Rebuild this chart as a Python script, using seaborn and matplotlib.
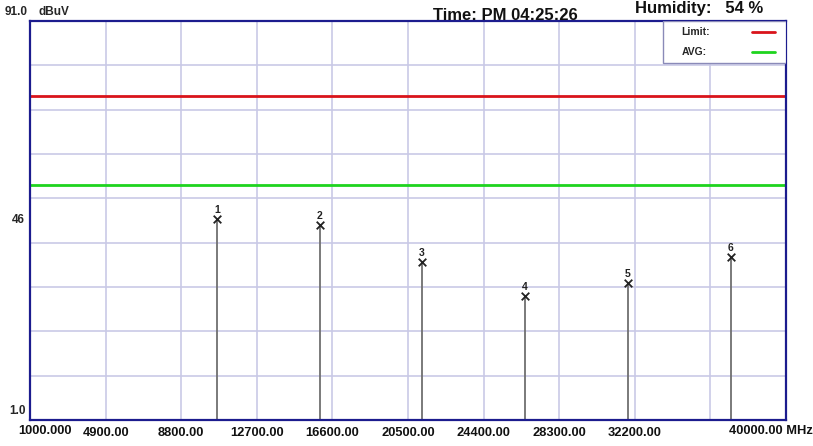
import matplotlib
matplotlib.use("Agg")
import matplotlib.pyplot as plt
import matplotlib.transforms as mtransforms
from matplotlib.patches import Rectangle
import seaborn as sns
import pandas as pd

# peak markers
marker_ids = ["1", "2", "3", "4", "5", "6"]
freqs = [10650, 15960, 21220, 26540, 31850, 37160]
levels = [46.3, 45.0, 36.6, 29.0, 31.9, 37.8]

limit_level = 74.0
avg_level = 54.0

x_ticks = [1000, 4900, 8800, 12700, 16600, 20500, 24400, 28300, 32200, 36100, 40000]
x_labels = ["", "4900.00", "8800.00", "12700.00", "16600.00", "20500.00",
            "24400.00", "28300.00", "32200.00", "", ""]
y_grid = [1, 11, 21, 31, 41, 51, 61, 71, 81, 91]

sns.set_style("white")
plt.rcParams['font.family'] = ['Liberation Sans', 'DejaVu Sans']

df = pd.DataFrame({"id": marker_ids, "freq": freqs, "level": levels})

fig = plt.figure(figsize=(8.13, 4.46), dpi=100)
ax = fig.add_axes([30 / 813, 1 - 420 / 446, 756 / 813, 399 / 446])

frame_col = "#1c1c8e"
grid_col = "#c9c9e6"
red = "#d9141b"
green = "#1ed41e"

ax.set_xlim(1000, 40000)
ax.set_ylim(1, 91)
ax.set_xticks(x_ticks)
ax.set_yticks(y_grid)
ax.grid(True, color=grid_col, linewidth=1.2)
ax.tick_params(length=0, labelleft=False, pad=5)
ax.set_xticklabels(x_labels, fontsize=9.3, fontweight='bold', color="#111111")
for s in ax.spines.values():
    s.set_color(frame_col)
    s.set_linewidth(1.6)

# limit lines
ax.axhline(limit_level, color=red, linewidth=2)
ax.axhline(avg_level, color=green, linewidth=2)

# stems and markers
ax.vlines(df["freq"], 1, df["level"], color="#707070", linewidth=1.3)
sns.scatterplot(data=df, x="freq", y="level", marker="x", s=30, color="#222222",
                linewidth=1.3, ax=ax, legend=False, zorder=5)
for _, r in df.iterrows():
    ax.annotate(r["id"], (r["freq"], r["level"]), xytext=(0, 3),
                textcoords="offset points", ha="center", va="bottom",
                fontsize=7.5, fontweight='bold', color="#222222")

ax.set_xlabel("")
ax.set_ylabel("")

# legend box, drawn like the analyser's
ax.add_patch(Rectangle((0.837, 0.895), 0.163, 0.105, transform=ax.transAxes,
                       facecolor="white", edgecolor="#8a8ab8", linewidth=1.0, zorder=6))
ax.text(0.862, 0.973, "Limit:", transform=ax.transAxes, fontsize=7.5, fontweight='bold',
        va="center", ha="left", zorder=7)
ax.text(0.862, 0.923, "AVG:", transform=ax.transAxes, fontsize=7.5, fontweight='bold',
        va="center", ha="left", zorder=7)
ax.plot([0.955, 0.985], [0.973, 0.973], transform=ax.transAxes, color=red, linewidth=2, zorder=7)
ax.plot([0.955, 0.985], [0.923, 0.923], transform=ax.transAxes, color=green, linewidth=2, zorder=7)

# axis value texts
fig.text(5 / 813, 1 - 12 / 446, "91.0", fontsize=8.5, fontweight='bold', va="center")
fig.text(38 / 813, 1 - 12 / 446, "dBuV", fontsize=8.5, fontweight='bold', va="center")
fig.text(25 / 813, 1 - 220 / 446, "46", fontsize=8.5, fontweight='bold', va="center", ha="right")
fig.text(26 / 813, 1 - 411 / 446, "1.0", fontsize=8.5, fontweight='bold', va="center", ha="right")

trans = mtransforms.blended_transform_factory(ax.transData, ax.transAxes)
ax.text(381, -0.0125, "1000.000", transform=trans, ha="left", va="top",
        fontsize=9.3, fontweight='bold', color="#111111")
ax.text(39226, -0.0125, "40000.00 MHz", transform=trans, ha="center", va="top",
        fontsize=9.3, fontweight='bold', color="#111111")

fig.text(505 / 813, 1 - 16 / 446, "Time: PM 04:25:26", fontsize=12, fontweight='bold',
         ha="center", va="center", color="#111111")
fig.text(699 / 813, 1 - 1 / 446, "Humidity:   54 %", fontsize=12, fontweight='bold',
         ha="center", va="top", color="#111111")

fig.savefig("out.png", dpi=100)
